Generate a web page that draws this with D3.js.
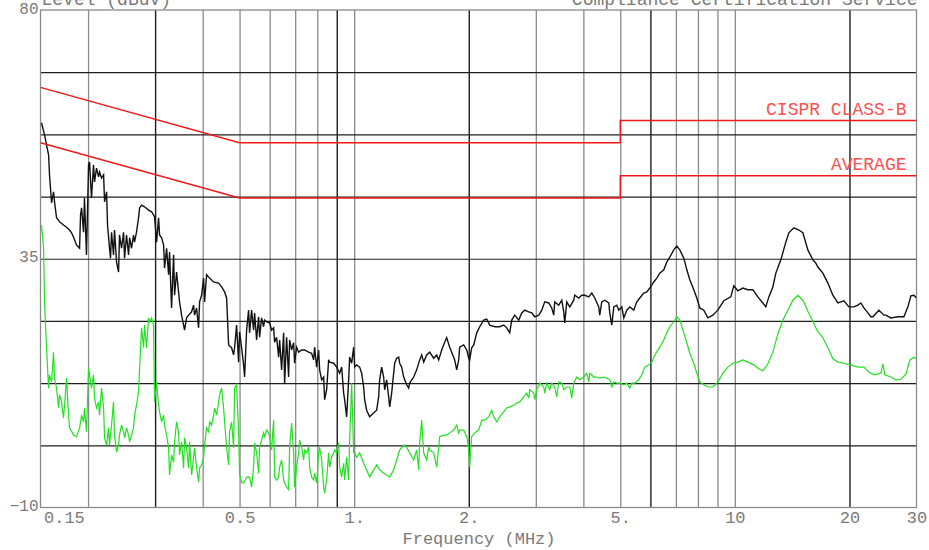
<!DOCTYPE html>
<html>
<head>
<meta charset="utf-8">
<script src="https://cdn.jsdelivr.net/npm/d3@7"></script>
<style>
  body { margin: 0; background: #fff; }
  svg { display: block; }
  text { font-family: "Liberation Mono", "DejaVu Sans Mono", monospace; }
</style>
</head>
<body>
<svg id="chart" width="929" height="550"></svg>
<script>
// conducted emission scan, values as [MHz, dBuV]
const peakTrace = [
  [0.1509,59.6],[0.1537,57.4],[0.1575,53.8],[0.1584,50.2],[0.1604,45.1],[0.1623,47.1],[0.1633,45.3],[0.1653,42.4],[0.1683,41.7],[0.1724,41.1],
  [0.1756,40.7],[0.1788,40.2],[0.1810,39.7],[0.1832,38.9],[0.1865,37.5],[0.1900,36.9],[0.1911,42.9],[0.1923,44.2],[0.1946,39.8],[0.1957,46.0],
  [0.1981,35.7],[0.2006,52.0],[0.2018,52.5],[0.2042,46.0],[0.2067,52.0],[0.2080,48.9],[0.2105,51.4],[0.2131,49.8],[0.2144,50.7],[0.2170,49.6],
  [0.2197,50.2],[0.2210,45.3],[0.2237,47.1],[0.2250,41.1],[0.2277,36.9],[0.2291,35.1],[0.2305,39.8],[0.2333,35.7],[0.2347,40.2],[0.2376,34.4],
  [0.2405,32.6],[0.2419,39.3],[0.2449,36.9],[0.2479,39.8],[0.2494,35.1],[0.2524,39.3],[0.2555,35.7],[0.2571,38.8],[0.2602,36.9],[0.2633,39.3],
  [0.2649,38.0],[0.2681,39.8],[0.2714,42.4],[0.2731,44.2],[0.2764,44.7],[0.2815,44.4],[0.2884,43.8],[0.2937,43.5],[0.2990,42.6],[0.3027,38.0],
  [0.3064,42.4],[0.3082,39.3],[0.3120,38.8],[0.3158,37.5],[0.3177,33.3],[0.3216,36.9],[0.3255,32.1],[0.3274,36.2],[0.3314,26.1],[0.3355,35.7],
  [0.3375,28.4],[0.3416,32.6],[0.3457,29.0],[0.3478,27.2],[0.3521,24.8],[0.3564,23.0],[0.3585,22.1],[0.3629,24.3],[0.3674,24.8],[0.3741,25.4],
  [0.3786,26.6],[0.3809,24.8],[0.3856,26.1],[0.3903,22.5],[0.3926,27.2],[0.3974,28.4],[0.4023,31.5],[0.4047,27.2],[0.4096,32.1],[0.4171,31.5],
  [0.4273,30.8],[0.4405,30.6],[0.4485,29.9],[0.4568,29.0],[0.4623,27.9],[0.4680,19.4],[0.4765,18.9],[0.4823,17.6],[0.4852,18.9],[0.4911,23.0],
  [0.4971,16.3],[0.5001,21.8],[0.5062,18.9],[0.5124,15.8],[0.5155,13.6],[0.5218,22.1],[0.5281,25.7],[0.5313,21.6],[0.5378,25.7],[0.5443,22.1],
  [0.5476,25.2],[0.5543,20.3],[0.5610,24.5],[0.5644,20.8],[0.5713,24.3],[0.5783,22.7],[0.5818,23.9],[0.5889,23.6],[0.5996,23.4],[0.6069,22.1],
  [0.6144,22.5],[0.6181,19.9],[0.6256,20.8],[0.6333,17.2],[0.6371,20.3],[0.6448,14.9],[0.6527,21.6],[0.6567,12.5],[0.6646,20.8],[0.6727,13.6],
  [0.6768,20.3],[0.6850,18.5],[0.6934,19.8],[0.6976,16.1],[0.7061,19.0],[0.7147,18.1],[0.7277,18.5],[0.7411,18.5],[0.7592,18.1],[0.7731,17.9],
  [0.7826,16.7],[0.7873,19.0],[0.7969,15.4],[0.8066,18.5],[0.8115,14.9],[0.8214,13.1],[0.8315,13.6],[0.8365,9.5],[0.8467,11.3],[0.8570,16.7],
  [0.8621,16.3],[0.8833,16.1],[0.8994,15.4],[0.9159,14.3],[0.9271,15.4],[0.9384,10.7],[0.9440,9.5],[0.9555,6.4],[0.9672,13.1],[0.9731,17.2],
  [0.9849,16.1],[0.9969,19.0],[1.0029,15.4],[1.0151,15.8],[1.0337,15.4],[1.0463,14.3],[1.0591,11.8],[1.0655,9.5],[1.0785,7.6],[1.0982,6.4],
  [1.1251,7.1],[1.1457,7.6],[1.1597,10.0],[1.1667,13.1],[1.1809,15.4],[1.1954,13.6],[1.2026,11.3],[1.2172,13.1],[1.2321,10.0],[1.2396,8.2],
  [1.2546,10.7],[1.2699,14.3],[1.2776,16.1],[1.2931,17.0],[1.3089,17.2],[1.3168,16.1],[1.3328,15.4],[1.3491,13.6],[1.3738,12.2],[1.3906,11.6],
  [1.3990,12.5],[1.4333,13.6],[1.4595,14.9],[1.4863,16.7],[1.5044,17.6],[1.5227,16.3],[1.5506,17.6],[1.5789,18.1],[1.6177,17.0],[1.6473,17.6],
  [1.6674,16.7],[1.6980,18.5],[1.7290,19.9],[1.7501,20.7],[1.7822,19.0],[1.8259,17.2],[1.8369,16.7],[1.8593,14.9],[1.8820,16.7],[1.8933,19.0],
  [1.9398,19.4],[1.9753,18.5],[1.9994,17.0],[2.0114,16.7],[2.0359,18.9],[2.0608,19.4],[2.0985,21.6],[2.1369,22.7],[2.1894,23.9],[2.2294,24.1],
  [2.2702,23.0],[2.3400,22.7],[2.4118,22.7],[2.4710,23.0],[2.5162,22.5],[2.5623,21.6],[2.5935,23.9],[2.6410,24.8],[2.7058,23.9],[2.7552,25.2],
  [2.8058,25.7],[2.8746,25.4],[2.9272,25.2],[2.9807,24.5],[3.0539,24.8],[3.1097,25.7],[3.1667,27.2],[3.2444,27.0],[3.3038,26.1],[3.3441,24.8],
  [3.3642,27.2],[3.4468,26.6],[3.5098,27.5],[3.5527,25.4],[3.5741,23.4],[3.6176,27.2],[3.6839,26.3],[3.7743,27.5],[3.7970,28.4],[3.8902,27.9],
  [3.9614,28.4],[4.0339,28.4],[4.1329,28.1],[4.2085,28.8],[4.2856,27.9],[4.3907,26.3],[4.4172,24.8],[4.4710,27.2],[4.5530,27.5],[4.6647,27.0],
  [4.6928,25.2],[4.7499,23.0],[4.8080,26.3],[4.8959,26.6],[4.9556,25.7],[5.0462,26.3],[5.1079,24.3],[5.2013,25.7],[5.2965,26.3],[5.4265,25.7],
  [5.5257,27.2],[5.6268,27.9],[5.7648,28.8],[5.8701,29.0],[5.9777,29.7],[6.1243,30.8],[6.2363,31.5],[6.3505,32.4],[6.5064,33.0],[6.6254,34.4],
  [6.7467,35.3],[6.9122,36.6],[7.0386,37.3],[7.1675,36.6],[7.3434,35.1],[7.4777,33.0],[7.6146,31.2],[7.8015,29.4],[7.9441,27.9],[8.0897,26.1],
  [8.2881,25.7],[8.4912,24.3],[8.7520,24.8],[9.0209,25.7],[9.3544,27.4],[9.7580,28.1],[9.938,30.1],[10.182,29.2],[10.494,29.7],[10.817,29.4],
  [11.149,29.4],[11.491,28.1],[11.844,27.0],[12.060,26.3],[12.282,28.1],[12.583,29.9],[12.812,32.4],[13.206,34.8],[13.611,38.0],[13.862,39.7],
  [14.288,40.6],[14.727,40.2],[15.088,39.7],[15.551,36.6],[16.029,34.8],[16.321,34.2],[16.521,33.5],[17.029,32.4],[17.552,30.6],[18.091,28.4],
  [18.647,27.0],[19.337,27.4],[19.931,26.3],[20.543,26.3],[21.047,26.6],[21.430,27.0],[21.825,26.1],[22.360,25.2],[22.767,24.5],[23.047,24.5],
  [23.898,25.7],[24.632,24.8],[24.929,24.8],[25.695,24.3],[26.81,24.5],[27.80,24.5],[28.48,26.3],[29.00,28.3],[29.53,28.4],[30.0,27.9]
]

const avgTrace = [
  [0.1509,41.1],[0.1528,36.9],[0.1537,27.2],[0.1556,18.9],[0.1575,11.6],[0.1584,14.0],[0.1604,12.7],[0.1623,18.1],[0.1633,13.4],[0.1653,11.6],
  [0.1673,8.0],[0.1683,10.4],[0.1703,9.1],[0.1724,6.2],[0.1735,8.5],[0.1756,13.4],[0.1777,6.7],[0.1788,4.4],[0.1832,3.1],[0.1865,2.8],
  [0.1900,4.4],[0.1923,6.7],[0.1946,5.5],[0.1957,8.0],[0.1981,3.7],[0.2006,15.2],[0.2018,14.0],[0.2042,11.6],[0.2067,14.0],[0.2080,9.8],
  [0.2105,8.0],[0.2131,9.1],[0.2144,6.7],[0.2170,11.6],[0.2197,8.0],[0.2210,2.6],[0.2237,1.3],[0.2264,4.4],[0.2277,1.3],[0.2305,4.9],
  [0.2333,9.1],[0.2347,3.1],[0.2376,0.0],[0.2405,1.3],[0.2419,3.1],[0.2449,4.9],[0.2479,3.7],[0.2494,2.6],[0.2524,4.4],[0.2555,3.1],
  [0.2571,1.9],[0.2602,3.1],[0.2633,4.4],[0.2649,6.7],[0.2681,8.5],[0.2714,10.9],[0.2731,15.2],[0.2764,22.5],[0.2798,18.9],[0.2815,23.0],
  [0.2849,18.9],[0.2884,24.3],[0.2902,23.6],[0.2937,24.3],[0.2972,23.0],[0.2990,9.1],[0.3027,12.7],[0.3064,8.5],[0.3082,7.3],[0.3120,5.5],
  [0.3158,6.7],[0.3177,4.9],[0.3216,3.1],[0.3255,0.8],[0.3274,-4.1],[0.3314,-0.5],[0.3355,-1.8],[0.3375,1.9],[0.3416,5.5],[0.3457,3.7],
  [0.3478,-0.5],[0.3521,1.9],[0.3564,-2.9],[0.3585,2.6],[0.3629,0.8],[0.3674,-2.9],[0.3696,1.9],[0.3741,-4.1],[0.3786,-1.0],[0.3809,0.8],
  [0.3856,-2.9],[0.3903,-5.4],[0.3926,-2.9],[0.3974,-2.3],[0.4023,-1.0],[0.4047,1.3],[0.4096,4.4],[0.4146,3.7],[0.4171,5.5],[0.4222,4.9],
  [0.4273,6.7],[0.4299,8.0],[0.4352,6.7],[0.4405,9.1],[0.4431,10.4],[0.4485,11.6],[0.4540,8.0],[0.4568,5.5],[0.4623,0.8],[0.4680,-2.3],
  [0.4708,3.7],[0.4765,5.5],[0.4823,0.8],[0.4852,11.6],[0.4911,12.2],[0.4971,3.7],[0.5001,-4.1],[0.5062,-5.4],[0.5124,-5.6],[0.5218,-4.5],
  [0.5313,-4.5],[0.5378,-6.3],[0.5443,-2.7],[0.5476,1.7],[0.5543,-0.1],[0.5610,-3.8],[0.5644,0.9],[0.5713,2.2],[0.5783,3.5],[0.5818,2.8],
  [0.5889,4.0],[0.5960,3.5],[0.5996,2.8],[0.6069,0.4],[0.6144,5.8],[0.6181,-4.5],[0.6256,-5.0],[0.6333,-4.5],[0.6371,-2.7],[0.6448,-1.4],
  [0.6527,-5.0],[0.6567,-5.6],[0.6646,-6.3],[0.6727,-6.8],[0.6768,0.9],[0.6850,5.3],[0.6934,-0.1],[0.6976,-6.3],[0.7061,-2.7],[0.7147,-0.1],
  [0.7190,2.2],[0.7277,0.9],[0.7366,-1.4],[0.7411,0.4],[0.7501,-0.1],[0.7592,0.9],[0.7638,-2.7],[0.7731,-4.5],[0.7826,-5.0],[0.7873,-3.8],
  [0.7969,-5.6],[0.8066,-0.1],[0.8115,0.9],[0.8214,-1.4],[0.8315,-6.3],[0.8365,-7.4],[0.8467,-5.0],[0.8570,-0.1],[0.8621,-2.7],[0.8726,-0.9],
  [0.8833,-0.1],[0.8886,0.4],[0.8994,-0.1],[0.9104,1.7],[0.9159,-2.7],[0.9271,-4.5],[0.9384,-2.0],[0.9440,-5.0],[0.9555,-0.9],[0.9672,-5.0],
  [0.9731,2.2],[0.9849,12.5],[0.9969,-0.1],[1.0029,-0.1],[1.0151,-0.9],[1.0337,-0.1],[1.0591,-2.0],[1.0785,-3.2],[1.0982,-4.5],[1.1251,-3.2],
  [1.1457,-2.3],[1.1667,-3.2],[1.1954,-3.8],[1.2172,-4.1],[1.2396,-4.5],[1.2699,-3.2],[1.2931,-1.4],[1.3168,0.4],[1.3491,1.3],[1.3738,0.9],
  [1.3990,-0.1],[1.4333,-1.4],[1.4595,0.4],[1.4774,-3.2],[1.4863,1.7],[1.5044,5.8],[1.5227,-0.1],[1.5506,-1.4],[1.5695,0.9],[1.5789,0.4],
  [1.6177,-0.1],[1.6473,-2.7],[1.6674,0.9],[1.6775,2.8],[1.7187,3.1],[1.7501,3.1],[1.7822,3.5],[1.8259,4.0],[1.8593,4.9],[1.8820,3.5],
  [1.8933,4.0],[1.9398,4.0],[1.9753,2.8],[1.9994,0.9],[2.0114,-2.7],[2.0359,2.8],[2.0733,3.5],[2.1241,4.0],[2.1629,5.8],[2.2026,5.8],
  [2.2566,6.4],[2.2978,7.6],[2.3259,6.4],[2.3685,5.5],[2.4118,6.4],[2.4710,7.3],[2.5162,8.0],[2.5623,8.2],[2.6252,8.5],[2.6731,8.9],
  [2.7221,9.1],[2.7889,10.0],[2.8399,10.7],[2.8746,9.8],[2.8920,11.3],[2.9629,10.7],[2.9807,9.5],[3.0170,11.3],[3.0723,12.5],[3.1477,11.8],
  [3.1667,10.7],[3.2053,12.5],[3.2640,11.3],[3.3038,12.5],[3.3642,11.8],[3.4052,10.0],[3.4468,12.7],[3.5098,12.5],[3.5527,11.3],[3.6176,11.8],
  [3.6839,11.8],[3.7288,9.8],[3.7743,12.5],[3.8433,13.6],[3.9137,13.1],[4.0097,13.6],[4.0830,14.3],[4.1329,12.7],[4.1579,14.3],[4.2599,13.6],
  [4.3378,13.6],[4.4172,13.4],[4.5257,13.6],[4.6084,13.4],[4.6928,13.1],[4.7499,11.8],[4.8080,12.7],[4.8959,12.5],[4.9855,12.5],[5.1079,12.2],
  [5.2013,12.5],[5.2965,11.6],[5.3610,12.5],[5.4593,12.5],[5.5931,13.1],[5.6953,14.0],[5.7995,15.4],[5.9418,15.8],[6.0504,16.3],[6.1613,17.6],
  [6.3505,19.0],[6.5064,20.3],[6.6254,21.6],[6.7467,22.7],[6.9122,23.6],[7.0386,24.5],[7.1675,23.9],[7.3434,21.6],[7.4777,19.8],[7.6146,17.9],
  [7.8015,16.1],[7.9441,14.3],[8.0897,12.7],[8.2881,12.2],[8.4912,11.8],[8.7520,11.8],[9.0209,12.7],[9.2980,14.3],[9.5836,15.4],[9.878,16.1],
  [10.182,16.3],[10.494,16.7],[10.817,16.3],[11.217,15.8],[11.491,15.2],[11.844,14.7],[12.208,16.0],[12.583,18.1],[12.970,21.4],[13.368,23.9],
  [13.779,25.7],[14.202,27.5],[14.638,28.4],[15.088,27.5],[15.551,25.5],[16.029,23.7],[16.421,22.1],[17.029,20.7],[17.552,18.9],[18.091,16.9],
  [18.647,16.3],[19.337,16.1],[20.171,15.8],[21.047,15.4],[21.825,15.4],[22.495,14.5],[23.186,14.0],[24.186,14.3],[24.483,16.0],[24.78,14.0],
  [25.695,13.6],[26.485,13.1],[27.298,13.2],[28.136,14.1],[28.83,16.7],[29.53,17.2],[30.0,16.9]
]

// CISPR 22 class B limits
const qpLimit = [[0.15, 66], [0.5, 56], [5, 56], [5, 60], [30, 60]]
const avgLimit = [[0.15, 56], [0.5, 46], [5, 46], [5, 50], [30, 50]]
const limitNames = ['CISPR CLASS-B', 'AVERAGE']
const limitLabelLevels = [60, 50]

const xTicks = [0.15, 0.5, 1, 2, 5, 10, 20, 30]
const xTickLabels = ['0.15', '0.5', '1.', '2.', '5.', '10', '20', '30']
const yTicks = [80, 35, -10]
const yGrid = [68.75, 57.5, 46.25, 35, 23.75, 12.5, 1.25]
const xGridDark = [0.3, 0.9, 2, 6, 20]
const xGridLight = [0.2, 0.4, 0.5, 0.6, 0.7, 0.8, 1, 3, 4, 5, 7, 8, 9, 10]

const width = 929
const height = 550
const margin = { top: 10, right: 12.5, bottom: 42.5, left: 40.5 }
const textGray = '#7a7a7a'

const svg = d3.select('#chart')

const x = d3.scaleLog().domain([0.15, 30]).range([margin.left, width - margin.right])
const y = d3.scaleLinear().domain([-10, 80]).range([height - margin.bottom, margin.top])
const plotH = y(-10) - y(80)
const plotW = x(30) - x(0.15)

// vertical grid, light then dark
const vGrid = (values, color, w) => {
  svg.append('g')
    .attr('transform', `translate(0,${y(-10)})`)
    .call(d3.axisBottom(x).tickValues(values).tickSize(-plotH).tickFormat(''))
    .call(g => g.select('.domain').remove())
    .selectAll('line')
    .attr('stroke', color)
    .attr('stroke-width', w)
}
vGrid(xGridLight, '#8a8a8a', 1.3)
vGrid(xGridDark, '#1e1e1e', 1.4)

// horizontal grid
svg.append('g')
  .attr('transform', `translate(${x(0.15)},0)`)
  .call(d3.axisLeft(y).tickValues(yGrid).tickSize(-plotW).tickFormat(''))
  .call(g => g.select('.domain').remove())
  .selectAll('line')
  .attr('stroke', '#1e1e1e')
  .attr('stroke-width', 1.2)

// frame
svg.append('rect')
  .attr('x', x(0.15))
  .attr('y', y(80))
  .attr('width', plotW)
  .attr('height', plotH)
  .attr('fill', 'none')
  .attr('stroke', '#8a8a8a')
  .attr('stroke-width', 1.3)

svg.append('clipPath').attr('id', 'plot-clip')
  .append('rect')
  .attr('x', x(0.15))
  .attr('y', y(80))
  .attr('width', plotW)
  .attr('height', plotH)

const line = d3.line().x(d => x(d[0])).y(d => y(d[1]))
const marks = svg.append('g').attr('clip-path', 'url(#plot-clip)')

marks.append('path')
  .datum(avgTrace)
  .attr('d', line)
  .attr('fill', 'none')
  .attr('stroke', '#22e022')
  .attr('stroke-width', 1.2)

marks.append('path')
  .datum(peakTrace)
  .attr('d', line)
  .attr('fill', 'none')
  .attr('stroke', '#111')
  .attr('stroke-width', 1.4)

marks.selectAll('.limit')
  .data([qpLimit, avgLimit])
  .join('path')
  .attr('class', 'limit')
  .attr('d', line)
  .attr('fill', 'none')
  .attr('stroke', '#f01818')
  .attr('stroke-width', 1.5)

svg.selectAll('.limit-label')
  .data(limitNames)
  .join('text')
  .attr('class', 'limit-label')
  .attr('x', x(30) - 10)
  .attr('y', (d, i) => y(limitLabelLevels[i]) - 5.5)
  .attr('text-anchor', 'end')
  .attr('font-size', 18)
  .attr('fill', '#ff5050')
  .text(d => d)

// axis labels
svg.append('g')
  .attr('transform', `translate(0,${y(-10)})`)
  .call(d3.axisBottom(x).tickValues(xTicks).tickSize(0).tickPadding(3)
    .tickFormat((d, i) => xTickLabels[i]))
  .call(g => g.select('.domain').remove())
  .selectAll('text')
  .attr('font-size', 17)
  .attr('font-family', '"Liberation Mono", monospace')
  .attr('fill', textGray)
  .attr('text-anchor', (d, i) => i === 0 ? 'start' : 'middle')
  .attr('dx', (d, i) => i === 0 ? 3 : 0)

svg.append('g')
  .attr('transform', `translate(${x(0.15)},0)`)
  .call(d3.axisLeft(y).tickValues(yTicks).tickSize(0).tickPadding(2))
  .call(g => g.select('.domain').remove())
  .selectAll('text')
  .attr('font-size', 16)
  .attr('font-family', '"Liberation Mono", monospace')
  .attr('fill', textGray)
  .attr('dy', '0.2em')

// header lines sit partly above the top edge, as in the scan
svg.append('text')
  .attr('x', x(0.15) + 1)
  .attr('y', 5)
  .attr('font-size', 18)
  .attr('fill', textGray)
  .text('Level (dBuV)')

svg.append('text')
  .attr('x', x(30) + 1)
  .attr('y', 5)
  .attr('text-anchor', 'end')
  .attr('font-size', 18)
  .attr('fill', textGray)
  .text('Compliance Certification Service')

svg.append('text')
  .attr('x', 479)
  .attr('y', 544)
  .attr('text-anchor', 'middle')
  .attr('font-size', 17)
  .attr('fill', textGray)
  .text('Frequency (MHz)')
</script>
</body>
</html>
